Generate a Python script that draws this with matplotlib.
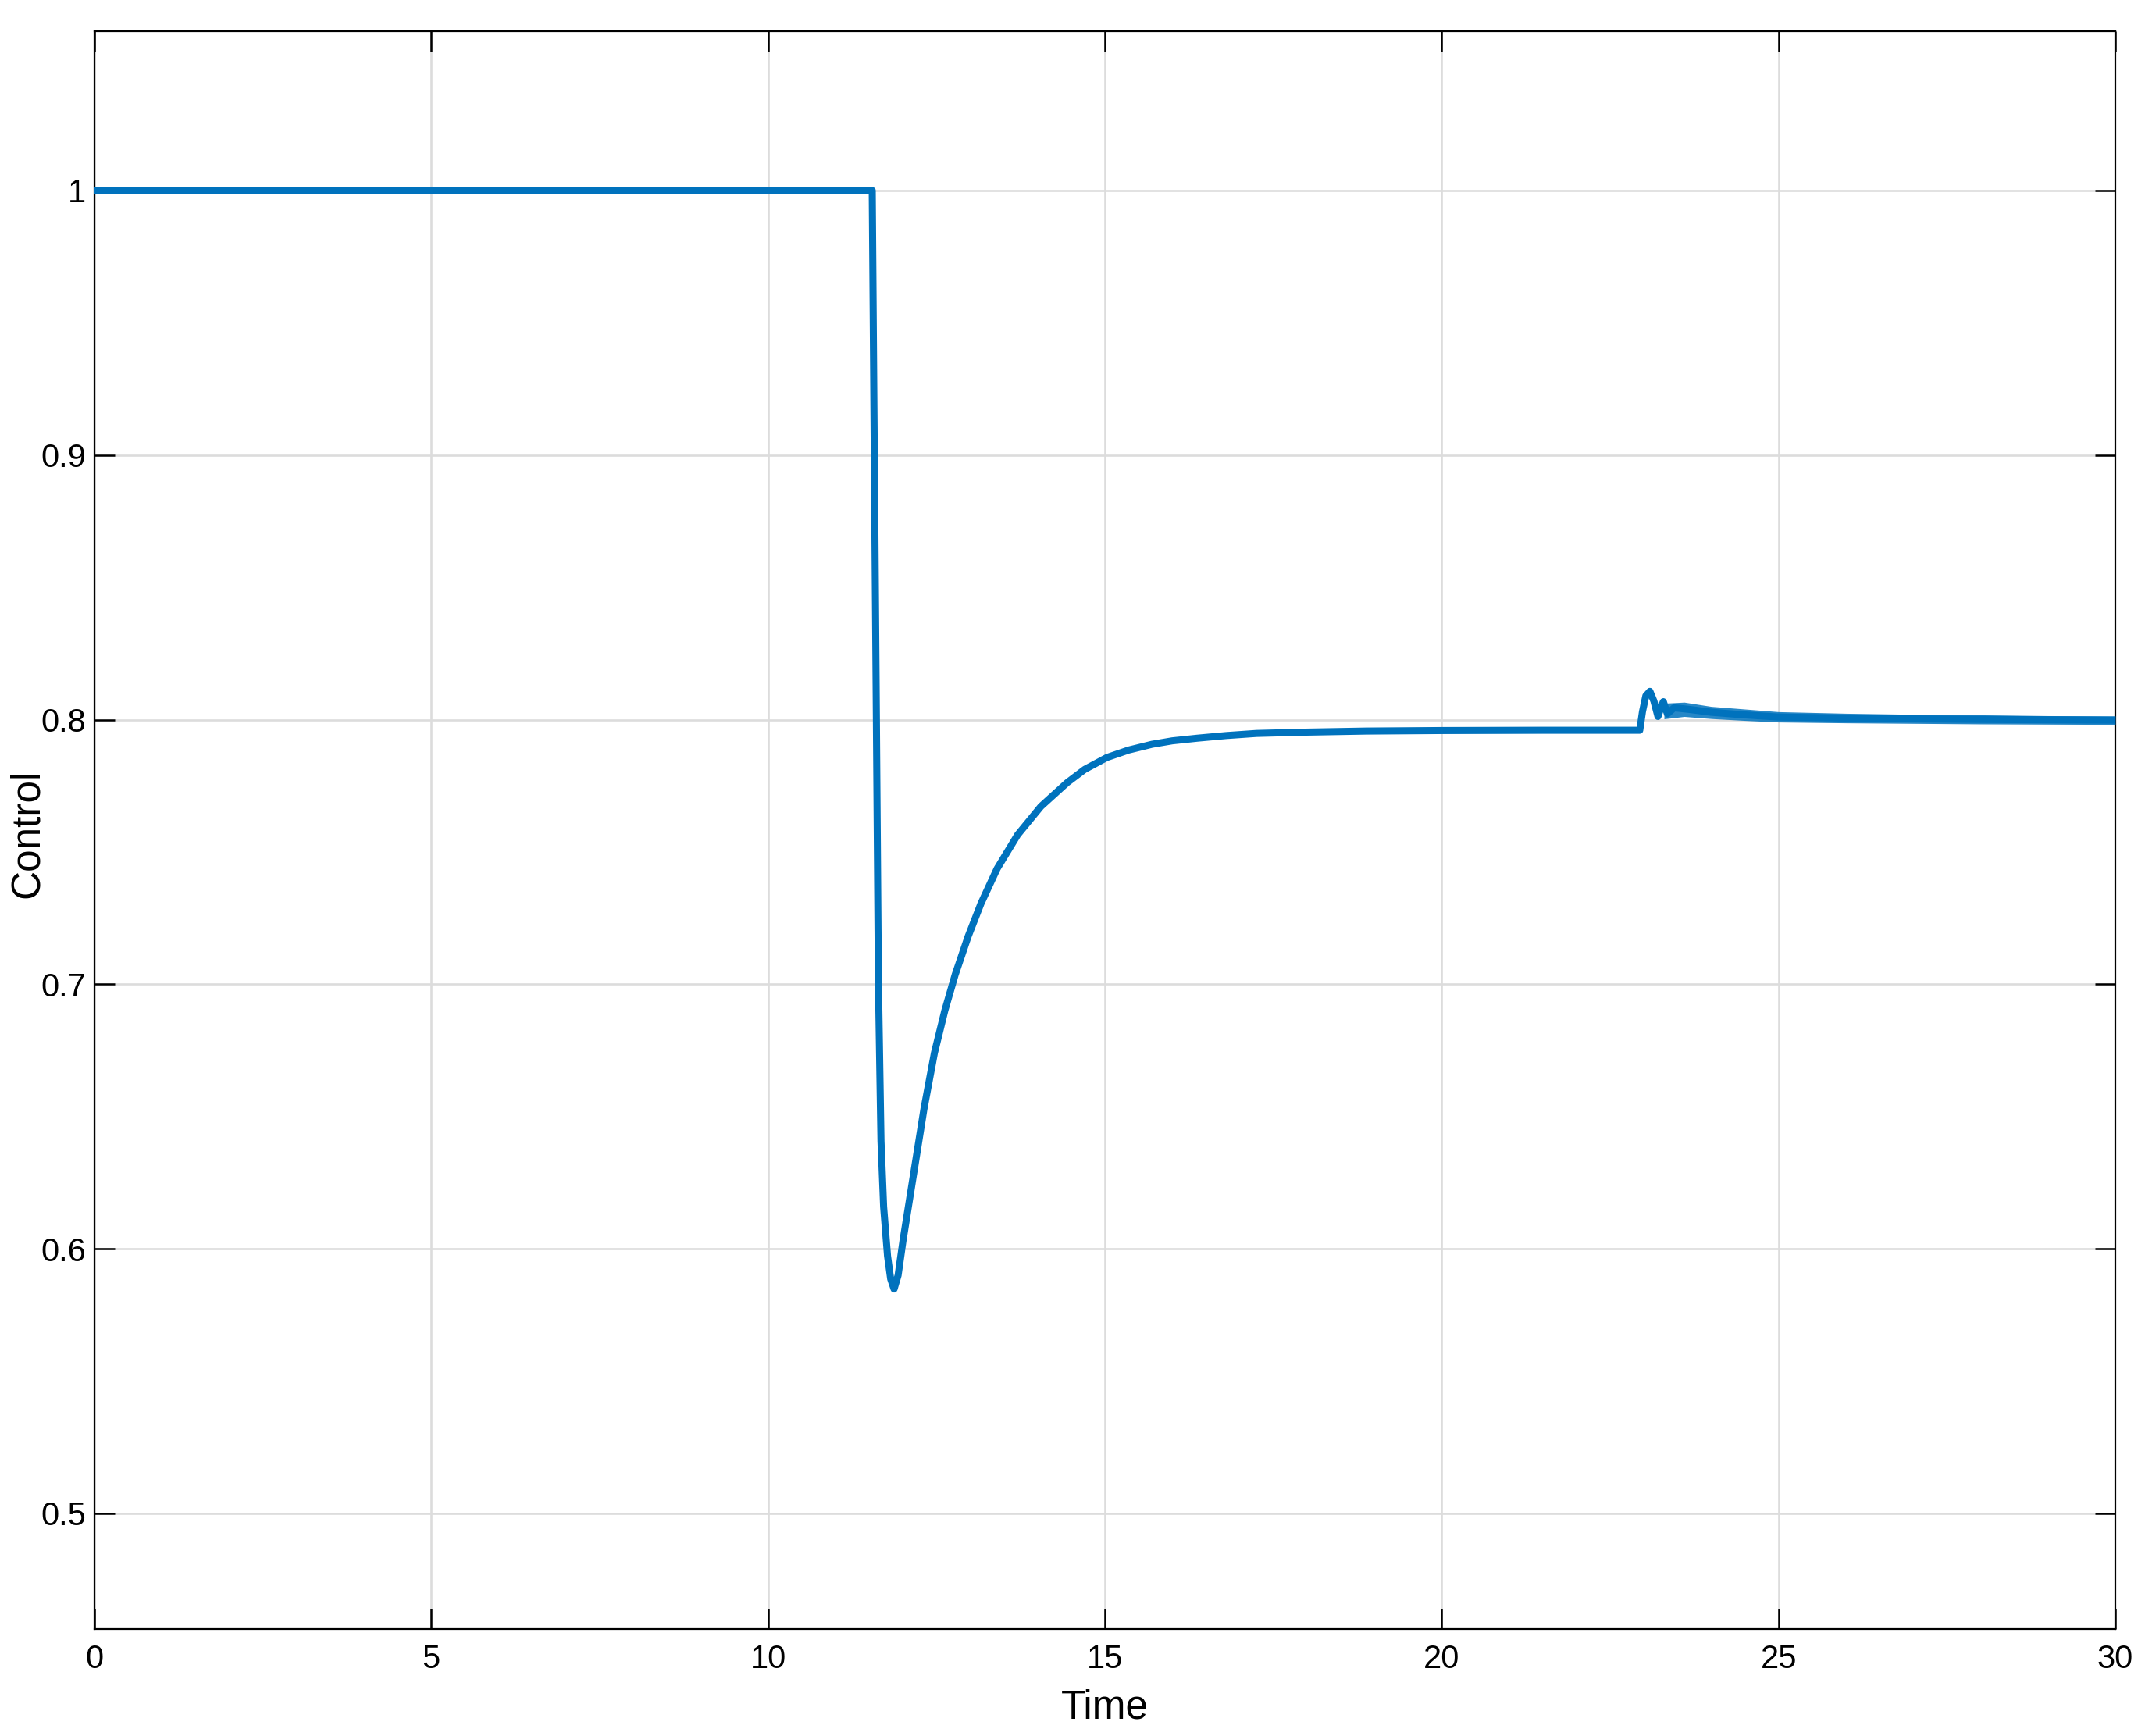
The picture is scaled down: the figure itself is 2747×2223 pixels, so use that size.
import matplotlib
matplotlib.use('Agg')
import matplotlib.pyplot as plt
from matplotlib.ticker import FixedLocator, FixedFormatter

# ---- data ----
time_s = [0.0, 11.546, 11.607, 11.638, 11.676, 11.715, 11.773, 11.82, 11.87,
          11.93, 12.005, 12.16, 12.314, 12.469, 12.623, 12.777, 12.97, 13.16,
          13.40, 13.705, 14.05, 14.44, 14.70, 15.03, 15.35, 15.70, 16.0, 16.37,
          16.8, 17.25, 18.0, 18.88, 20.0, 21.5, 22.94, 22.98, 23.03, 23.09,
          23.15, 23.21, 23.26, 23.29, 23.35, 23.45, 23.7, 24.0, 24.5, 25.0,
          26.5, 28.0, 30.0]
control = [1.0, 1.0, 0.802, 0.700, 0.6407, 0.6159, 0.5973, 0.5886, 0.5848,
           0.590, 0.6035, 0.6283, 0.6529, 0.674, 0.690, 0.7036, 0.7181, 0.7305,
           0.7437, 0.7565, 0.7672, 0.7762, 0.7812, 0.7857, 0.7885, 0.7907, 0.7920, 0.7930,
           0.7940, 0.7948, 0.7953, 0.7957, 0.7959, 0.7960, 0.7960, 0.8030, 0.8090, 0.8107,
           0.8070, 0.8012, 0.8050, 0.8068, 0.8022, 0.8045, 0.8038, 0.8028, 0.8018, 0.8010,
           0.8004, 0.8001, 0.7998]

# chatter band after the disturbance at t~23
band_t = [23.3, 23.6, 24.0, 24.5, 25.0, 26.0, 27.0, 28.0, 29.0, 30.0]
band_upper = [0.8062, 0.8066, 0.8050, 0.8040, 0.8030, 0.8024, 0.8020, 0.8018, 0.8015, 0.8014]
band_lower = [0.8003, 0.8012, 0.8004, 0.7997, 0.7991, 0.7988, 0.7986, 0.7984, 0.7983, 0.7982]

x_ticks = [0, 5, 10, 15, 20, 25, 30]
y_ticks = [0.5, 0.6, 0.7, 0.8, 0.9, 1.0]
y_tick_labels = ['0.5', '0.6', '0.7', '0.8', '0.9', '1']

# ---- fonts ----
plt.rcParams['font.family'] = ['Liberation Sans', 'DejaVu Sans']
tick_fs = 30
label_fs = 37

# ---- figure ----
fig = plt.figure(figsize=(27.47, 22.23), dpi=100)
ax = fig.add_axes([121/2747, 1-2086/2223, (2709-121)/2747, (2086-40)/2223])

line_color = '#0072BD'
ax.fill_between(band_t, band_lower, band_upper, color=line_color, alpha=0.85,
                linewidth=0, zorder=3)
ax.plot(time_s, control, color=line_color, linewidth=6.5, zorder=4,
        solid_joinstyle='round')

ax.set_xlim(0, 30)
ax.set_ylim(0.4563, 1.0602)
ax.xaxis.set_major_locator(FixedLocator(x_ticks))
ax.yaxis.set_major_locator(FixedLocator(y_ticks))
ax.yaxis.set_major_formatter(FixedFormatter(y_tick_labels))

ax.grid(True, color='#dcdcdc', linewidth=1.9)
ax.set_axisbelow(True)

ax.tick_params(direction='in', length=18.5, width=1.8, top=True, right=True,
               labelsize=tick_fs, colors='black')
ax.tick_params(axis='x', pad=14)
ax.tick_params(axis='y', pad=8)
for sp in ax.spines.values():
    sp.set_linewidth(1.6)
    sp.set_color('black')

ax.set_xlabel('Time', fontsize=label_fs, labelpad=12)
ax.set_ylabel('Control', fontsize=label_fs)
ax.yaxis.set_label_coords(-0.0235, 0.498)

fig.savefig('out.png', dpi=100, facecolor='white')
